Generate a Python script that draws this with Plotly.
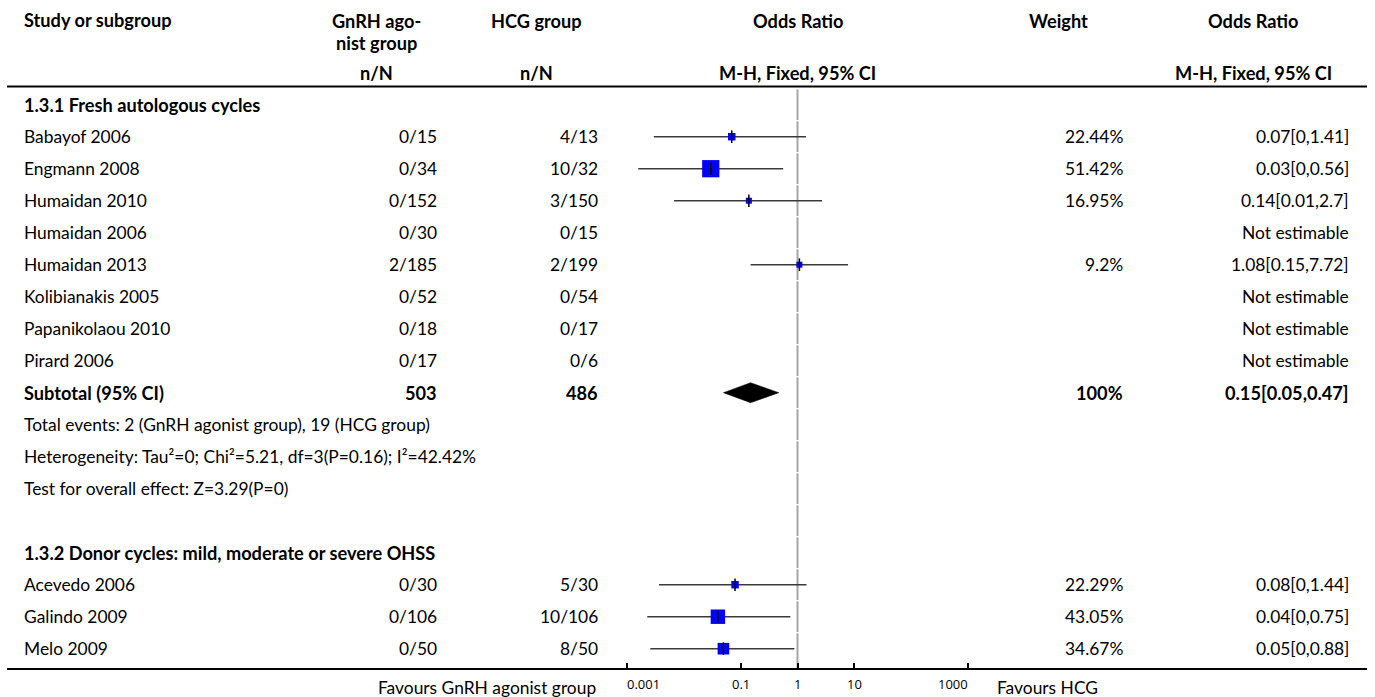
import plotly.graph_objects as go
import math

W, H = 1375, 697

# ---------------- data ----------------
header_study = "Study or subgroup"
header_gnrh = ["GnRH ago-", "nist group"]
header_hcg = "HCG group"
header_nN = "n/N"
header_or = "Odds Ratio"
header_weight = "Weight"
header_method = "M-H, Fixed, 95% CI"

section1_title = "1.3.1 Fresh autologous cycles"
studies1 = ["Babayof 2006", "Engmann 2008", "Humaidan 2010", "Humaidan 2006",
            "Humaidan 2013", "Kolibianakis 2005", "Papanikolaou 2010", "Pirard 2006"]
gnrh_events1 = [0, 0, 0, 0, 2, 0, 0, 0]
gnrh_totals1 = [15, 34, 152, 30, 185, 52, 18, 17]
hcg_events1 = [4, 10, 3, 0, 2, 0, 0, 0]
hcg_totals1 = [13, 32, 150, 15, 199, 54, 17, 6]
weights1 = [22.44, 51.42, 16.95, None, 9.2, None, None, None]
or1 = [0.07, 0.03, 0.14, None, 1.08, None, None, None]
lo1 = [0.0030, 0.0016, 0.0068, None, 0.15, None, None, None]
hi1 = [1.41, 0.56, 2.7, None, 7.72, None, None, None]
or_labels1 = ["0.07[0,1.41]", "0.03[0,0.56]", "0.14[0.01,2.7]", "Not estimable",
              "1.08[0.15,7.72]", "Not estimable", "Not estimable", "Not estimable"]

subtotal_label = "Subtotal (95% CI)"
subtotal_gnrh = 503
subtotal_hcg = 486
subtotal_weight = "100%"
subtotal_or = 0.15
subtotal_lo = 0.05
subtotal_hi = 0.47
subtotal_or_label = "0.15[0.05,0.47]"

notes1 = ["Total events: 2 (GnRH agonist group), 19 (HCG group)",
          "Heterogeneity: Tau\u00b2=0; Chi\u00b2=5.21, df=3(P=0.16); I\u00b2=42.42%",
          "Test for overall effect: Z=3.29(P=0)"]

section2_title = "1.3.2 Donor cycles: mild, moderate or severe OHSS"
studies2 = ["Acevedo 2006", "Galindo 2009", "Melo 2009"]
gnrh_events2 = [0, 0, 0]
gnrh_totals2 = [30, 106, 50]
hcg_events2 = [5, 10, 8]
hcg_totals2 = [30, 106, 50]
weights2 = [22.29, 43.05, 34.67]
or2 = [0.08, 0.04, 0.05]
lo2 = [0.0037, 0.0023, 0.0026]
hi2 = [1.44, 0.75, 0.88]
or_labels2 = ["0.08[0,1.44]", "0.04[0,0.75]", "0.05[0,0.88]"]

tick_values = [0.001, 0.1, 1, 10, 1000]
tick_labels = ["0.001", "0.1", "1", "10", "1000"]
favours_left = "Favours GnRH agonist group"
favours_right = "Favours HCG"

# ---------------- layout constants ----------------
FONT = "Lato, 'Source Sans Pro', 'Noto Sans', sans-serif"
TICK_FONT = "'Open Sans', 'Noto Sans', sans-serif"
FS = 17.4
FS_BOLD = 18.2
ROW0_PX = 104.7      # pixel centre of first row
ROW_H = 32.0         # row height in px
PLOT_BOTTOM = 669    # axis line pixel
X_CENTER = 797.5     # pixel of OR = 1
DECADE = 56.95       # px per decade

COL_STUDY = 22
COL_GNRH_R = 439
COL_HCG_R = 600
COL_WEIGHT_R = 1125
COL_OR_R = 1351
COL_GNRH_HEAD = 376
COL_HCG_HEAD = 536
COL_WEIGHT_HEAD = 1058
COL_OR2_HEAD = 1253


def ypx(p):
    return (p - ROW0_PX) / ROW_H


def ypaper(p):
    return (PLOT_BOTTOM - p) / PLOT_BOTTOM


def xp(p):
    return p / W


rows = []
rows.append(dict(kind="section", text=section1_title))
for i in range(len(studies1)):
    rows.append(dict(kind="study", name=studies1[i],
                     g=f"{gnrh_events1[i]}/{gnrh_totals1[i]}",
                     h=f"{hcg_events1[i]}/{hcg_totals1[i]}",
                     w=weights1[i], orv=or1[i], lo=lo1[i], hi=hi1[i],
                     lab=or_labels1[i]))
rows.append(dict(kind="subtotal"))
for n in notes1:
    rows.append(dict(kind="note", text=n))
rows.append(dict(kind="blank"))
rows.append(dict(kind="section", text=section2_title))
for i in range(len(studies2)):
    rows.append(dict(kind="study", name=studies2[i],
                     g=f"{gnrh_events2[i]}/{gnrh_totals2[i]}",
                     h=f"{hcg_events2[i]}/{hcg_totals2[i]}",
                     w=weights2[i], orv=or2[i], lo=lo2[i], hi=hi2[i],
                     lab=or_labels2[i]))

fig = go.Figure()
ann = []


def text(x, y, s, anchor="left", bold=False, size=None, yref="y", xref="paper"):
    if size is None:
        size = FS_BOLD if bold else FS
    if bold:
        s = f"<b>{s}</b>"
    ann.append(dict(x=x, y=y, xref=xref, yref=yref, text=s, showarrow=False,
                    xanchor=anchor, yanchor="middle",
                    font=dict(family=FONT, size=size, color="#000")))


# header
text(xp(COL_STUDY), ypx(20), header_study, bold=True)
text(xp(COL_GNRH_HEAD), ypx(21), header_gnrh[0], anchor="center", bold=True)
text(xp(COL_GNRH_HEAD), ypx(43), header_gnrh[1], anchor="center", bold=True)
text(xp(COL_HCG_HEAD), ypx(21), header_hcg, anchor="center", bold=True)
text(xp(X_CENTER), ypx(21), header_or, anchor="center", bold=True)
text(xp(COL_WEIGHT_HEAD), ypx(21), header_weight, anchor="center", bold=True)
text(xp(COL_OR2_HEAD), ypx(21), header_or, anchor="center", bold=True)
text(xp(COL_GNRH_HEAD), ypx(73), header_nN, anchor="center", bold=True)
text(xp(COL_HCG_HEAD), ypx(73), header_nN, anchor="center", bold=True)
text(xp(X_CENTER), ypx(73), header_method, anchor="center", bold=True)
text(xp(COL_OR2_HEAD), ypx(73), header_method, anchor="center", bold=True)

ci_x, ci_y = [], []
mk_x, mk_y, mk_s = [], [], []
sub_row = 0
for i, r in enumerate(rows):
    k = r["kind"]
    if k == "section":
        text(xp(COL_STUDY), i, r["text"], bold=True)
    elif k == "note":
        text(xp(COL_STUDY), i, r["text"])
    elif k == "study":
        text(xp(COL_STUDY), i, r["name"])
        text(xp(COL_GNRH_R), i, r["g"], anchor="right")
        text(xp(COL_HCG_R), i, r["h"], anchor="right")
        if r["w"] is not None:
            text(xp(COL_WEIGHT_R), i, f"{r['w']}%", anchor="right")
        text(xp(COL_OR_R), i, r["lab"], anchor="right")
        if r["orv"] is not None:
            ci_x += [r["lo"], r["hi"], None]
            ci_y += [i, i, None]
            mk_x.append(r["orv"])
            mk_y.append(i)
            mk_s.append(max(6, 0.335 * r["w"]))
    elif k == "subtotal":
        text(xp(COL_STUDY), i, subtotal_label, bold=True)
        text(xp(COL_GNRH_R), i, str(subtotal_gnrh), anchor="right", bold=True)
        text(xp(COL_HCG_R), i, str(subtotal_hcg), anchor="right", bold=True)
        text(xp(COL_WEIGHT_R), i, subtotal_weight, anchor="right", bold=True)
        text(xp(COL_OR_R), i, subtotal_or_label, anchor="right", bold=True)
        sub_row = i

# vertical reference line at OR = 1 (segment per row)
vx, vy = [], []
n_rows = len(rows)
for i in range(n_rows):
    top = i - 0.5 + 0.02
    bot = i + 0.5 - 0.02
    if i == n_rows - 1:
        bot = ypx(PLOT_BOTTOM)
    vx += [1, 1, None]
    vy += [top, bot, None]
fig.add_trace(go.Scatter(x=vx, y=vy, mode="lines",
                         line=dict(color="#a6a6a6", width=2), hoverinfo="skip"))

# CI lines
fig.add_trace(go.Scatter(x=ci_x, y=ci_y, mode="lines",
                         line=dict(color="#3a3a3a", width=1.6), hoverinfo="skip"))
# squares
fig.add_trace(go.Scatter(x=mk_x, y=mk_y, mode="markers", opacity=1,
                         marker=dict(symbol="square", size=mk_s, color="rgb(0,0,255)",
                                     opacity=1, line=dict(width=0)),
                         hoverinfo="skip"))
# centre ticks
fig.add_trace(go.Scatter(x=mk_x, y=mk_y, mode="markers",
                         marker=dict(symbol="line-ns", size=9, opacity=1,
                                     line=dict(color="#000", width=1.5)),
                         hoverinfo="skip"))
# subtotal diamond
hh = 10 / ROW_H
fig.add_trace(go.Scatter(
    x=[subtotal_lo, subtotal_or, subtotal_hi, subtotal_or, subtotal_lo],
    y=[sub_row, sub_row - hh, sub_row, sub_row + hh, sub_row],
    mode="lines", fill="toself", fillcolor="#000",
    line=dict(color="#000", width=0.5), hoverinfo="skip"))

# tick labels (below the axis line)
for v, s in zip(tick_values, tick_labels):
    anchor = "center"
    xv = math.log10(v)
    if v == tick_values[0]:
        anchor = "left"
        xv = math.log10(v) - 2 / DECADE
    elif v == tick_values[-1]:
        anchor = "right"
        xv = math.log10(v) + 2 / DECADE
    ann.append(dict(x=xv, y=ypaper(684), xref="x", yref="paper", text=s,
                    showarrow=False, xanchor=anchor, yanchor="middle",
                    font=dict(family=TICK_FONT, size=13, color="#000")))

text(xp(598), ypaper(687), favours_left, anchor="right", yref="paper")
text(xp(995), ypaper(687), favours_right, anchor="left", yref="paper")

shapes = [
    dict(type="line", xref="paper", yref="y", x0=xp(7), x1=xp(1367),
         y0=ypx(86.5), y1=ypx(86.5), line=dict(color="#000", width=2)),
    dict(type="line", xref="paper", yref="paper", x0=xp(7), x1=xp(1367),
         y0=0, y1=0, line=dict(color="#000", width=2)),
]

x_lo = (0 - X_CENTER) / DECADE
x_hi = (W - X_CENTER) / DECADE

fig.update_layout(
    width=W, height=H,
    margin=dict(l=0, r=0, t=0, b=H - PLOT_BOTTOM),
    paper_bgcolor="white", plot_bgcolor="white",
    showlegend=False,
    annotations=ann, shapes=shapes,
    xaxis=dict(type="log", range=[x_lo, x_hi], showgrid=False, zeroline=False,
               showline=False, showticklabels=False, ticks="inside",
               tickvals=tick_values, ticklen=6, tickwidth=1.5, tickcolor="#000",
               fixedrange=True),
    yaxis=dict(range=[ypx(PLOT_BOTTOM), ypx(0)], showgrid=False, zeroline=False,
               showline=False, showticklabels=False, ticks="", fixedrange=True),
)

fig.write_html("out.html", config={"displayModeBar": False})
